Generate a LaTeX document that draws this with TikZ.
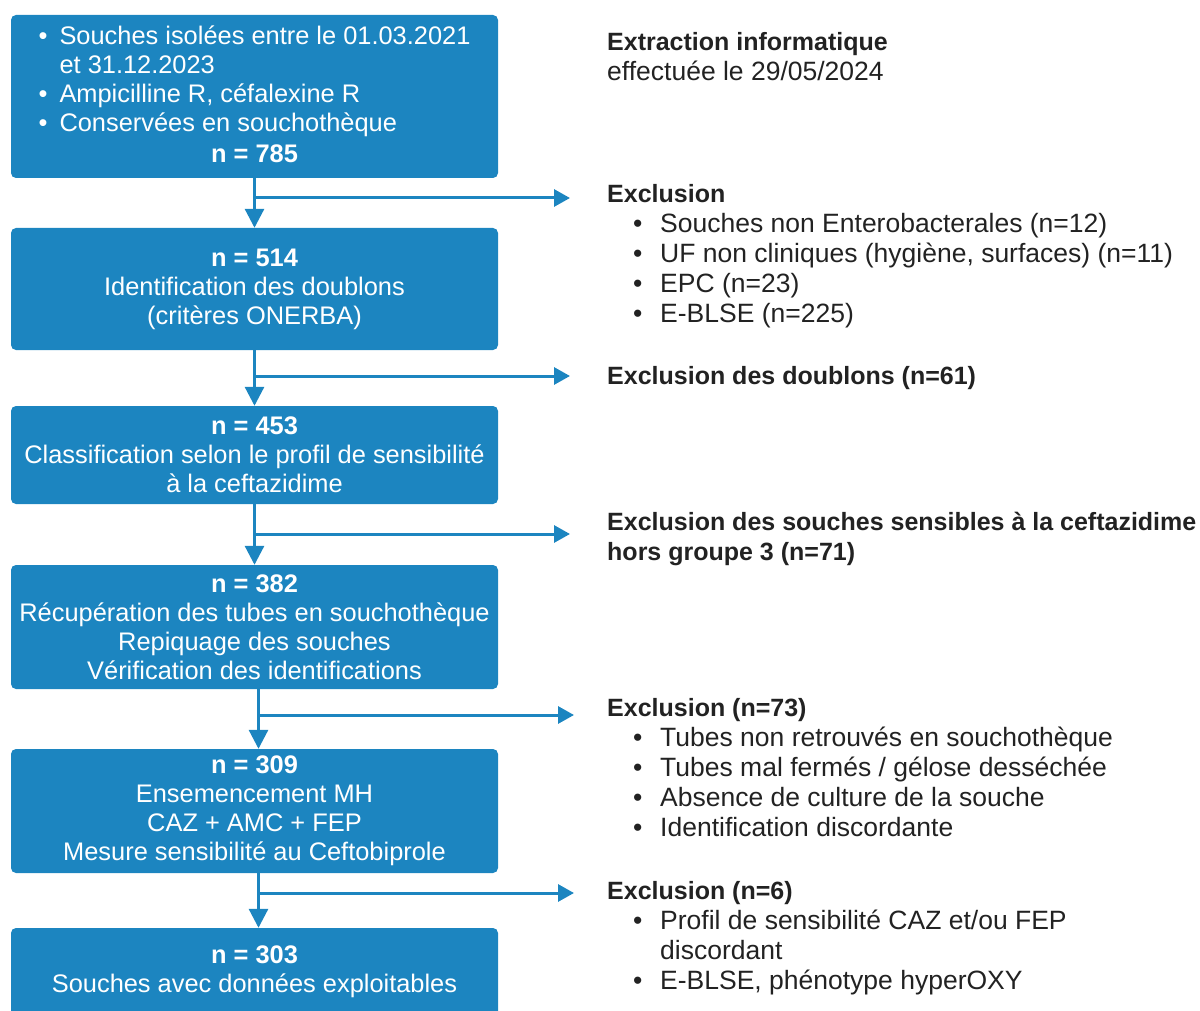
\documentclass[tikz,border=0pt]{standalone}
\usepackage{fontspec}
\setmainfont{Liberation Sans}
\usetikzlibrary{arrows.meta}
\definecolor{boxblue}{HTML}{1C85C0}
\definecolor{txtgray}{HTML}{222222}
\newcommand{\bul}{\makebox[21pt][l]{\textbullet}}
\newcommand{\rbul}{\hspace*{26pt}\makebox[27pt][l]{\textbullet}}
\newcommand{\hd}[1]{{\fontsize{25}{30}\selectfont\bfseries #1}}

\begin{document}
\begin{tikzpicture}
  [x=1pt,y=-1pt,
   box/.style={rectangle,rounded corners=5pt,fill=boxblue,text=white,minimum width=487pt,
     align=center,inner sep=0pt,font=\fontsize{25.4}{29}\selectfont},
   note/.style={anchor=base west,align=left,text=txtgray,inner sep=0pt,font=\fontsize{26.5}{30}\selectfont},
   down/.style={draw=boxblue,line width=3pt,-{Triangle[length=19pt,width=19pt]}},
   side/.style={draw=boxblue,line width=3pt,-{Triangle[length=16pt,width=17pt]}}]
  \clip (0,0) rectangle (1200,1011);

  % steps
  \node[box,minimum height=163pt] (b1) at (254.5,96.5) {%
    \begin{tabular}{@{}l@{}}
    \bul Souches isolées entre le 01.03.2021\\
    \hspace*{21pt}et 31.12.2023\\
    \bul Ampicilline R, céfalexine R\\
    \bul Conservées en souchothèque
    \end{tabular}\\[4pt]
    \textbf{n = 785}\rule[-6pt]{0pt}{6pt}};
  \node[box,minimum height=122pt] (b2) at (254.5,289) {\textbf{n = 514}\\
    Identification des doublons\\(critères ONERBA)};
  \node[box,minimum height=98pt] (b3) at (254.5,455) {\textbf{n = 453}\\
    Classification selon le profil de sensibilité\\à la ceftazidime};
  \node[box,minimum height=124pt] (b4) at (254.5,627) {\textbf{n = 382}\\
    Récupération des tubes en souchothèque\\Repiquage des souches\\
    Vérification des identifications};
  \node[box,minimum height=124pt] (b5) at (254.5,811) {\textbf{n = 309}\\
    Ensemencement MH\\CAZ + AMC + FEP\\Mesure sensibilité au Ceftobiprole};
  \node[box,minimum height=88pt] (b6) at (254.5,972) {\textbf{n = 303}\\
    Souches avec données exploitables};

  % side notes (anchored on the last line)
  \node[note] (n0) at (607,81) {\hd{Extraction informatique}\\effectuée le 29/05/2024};
  \node[note] (n1) at (607,322) {\hd{Exclusion}\\
    \rbul Souches non Enterobacterales (n=12)\\
    \rbul UF non cliniques (hygiène, surfaces) (n=11)\\
    \rbul EPC (n=23)\\
    \rbul E-BLSE (n=225)};
  \node[note] (n2) at (607,384) {\hd{Exclusion des doublons (n=61)}};
  \node[note] (n3) at (607,560) {\hd{Exclusion des souches sensibles à la ceftazidime}\\
    \hd{hors groupe 3 (n=71)}};
  \node[note] (n4) at (607,836) {\hd{Exclusion (n=73)}\\
    \rbul Tubes non retrouvés en souchothèque\\
    \rbul Tubes mal fermés / gélose desséchée\\
    \rbul Absence de culture de la souche\\
    \rbul Identification discordante};
  \node[note] (n5) at (607,989) {\hd{Exclusion (n=6)}\\
    \rbul Profil de sensibilité CAZ et/ou FEP\\
    \hspace*{53pt}discordant\\
    \rbul E-BLSE, phénotype hyperOXY};

  % arrows
  \foreach \from/\to/\dx in {b1/b2/0,b2/b3/0,b3/b4/0,b4/b5/4,b5/b6/4}
    \draw[down] ([xshift=\dx pt]\from.south) -- ([xshift=\dx pt]\to.north);

  \foreach \i/\x/\y in {1/254/198,2/254/376,3/254/534,4/258/715,5/258/893}{
    \coordinate (s\i) at (\x,\y);
    \coordinate (e\i) at (\x+316,\y);
    \draw[side] (s\i) -- (e\i);
  }

\end{tikzpicture}
\end{document}
